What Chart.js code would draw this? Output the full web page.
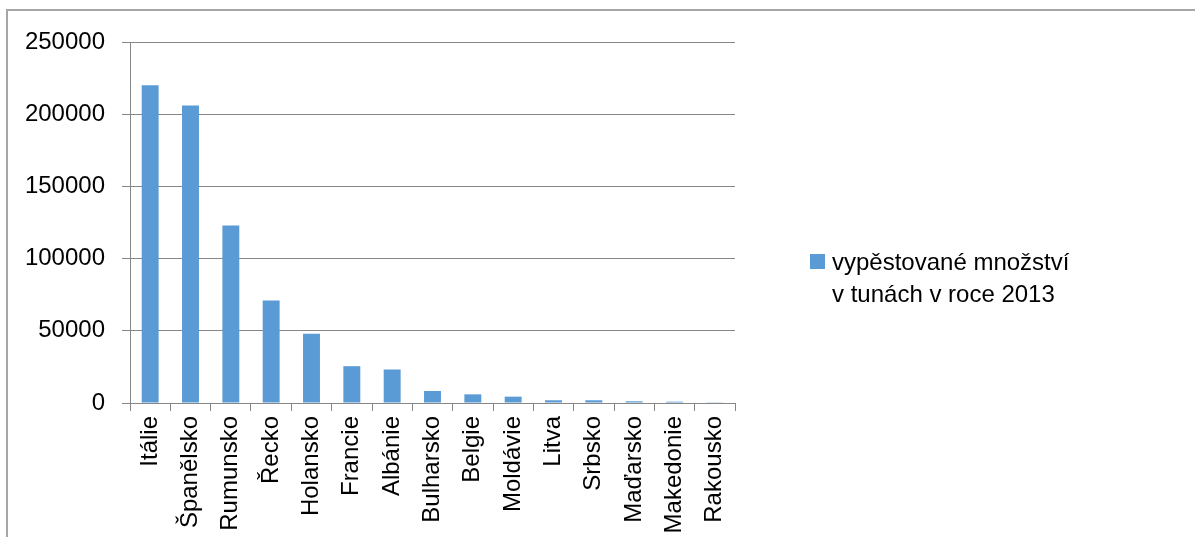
<!DOCTYPE html>
<html lang="cs">
<head>
<meta charset="utf-8">
<title>Vypěstované množství</title>
<script src="https://cdn.jsdelivr.net/npm/chart.js@4.4.1/dist/chart.umd.min.js"></script>
<style>
    html, body { margin: 0; padding: 0; background: #fff; }
    #wrap { position: relative; width: 1195px; height: 537px; overflow: hidden; }
    #frame {
        position: absolute; left: 6px; top: 9px; right: -10px; bottom: -10px;
        border-top: 2px solid #a6a6a6; border-left: 2px solid #a6a6a6;
        pointer-events: none;
    }
    canvas { position: absolute; left: 0; top: 0; }
</style>
</head>
<body>
<div id="wrap">
    <canvas id="chart" width="1195" height="537"></canvas>
    <div id="frame"></div>
</div>
<script>
// Countries and harvested tonnes (2013)
const countries = ['Itálie', 'Španělsko', 'Rumunsko', 'Řecko', 'Holansko', 'Francie', 'Albánie',
    'Bulharsko', 'Belgie', 'Moldávie', 'Litva', 'Srbsko', 'Maďarsko', 'Makedonie', 'Rakousko'];
const tonnes = [220000, 206000, 123000, 71000, 48000, 25500, 23200, 8300, 6000, 4400, 1900, 1900, 1200, 900, 500];
const legendLines = ['vypěstované množství', 'v tunách v roce 2013'];
const yTicks = [0, 50000, 100000, 150000, 200000, 250000];

const barColor = '#5B9BD5';
const gridColor = '#878787';

Chart.defaults.font.family = "'Liberation Sans', Arial, sans-serif";
Chart.defaults.font.size = 24;
Chart.defaults.color = '#000';

// Two-line legend drawn on the right side of the canvas
const sideLegend = {
    id: 'sideLegend',
    afterDraw(chart) {
        const ctx = chart.ctx;
        const ds = chart.data.datasets[0];
        ctx.save();
        ctx.fillStyle = ds.backgroundColor;
        ctx.fillRect(810, 254, 15, 15);
        ctx.fillStyle = '#000';
        ctx.font = "24px 'Liberation Sans', Arial, sans-serif";
        ctx.textBaseline = 'alphabetic';
        legendLines.forEach((line, i) => ctx.fillText(line, 832, 270 + i * 32));
        ctx.restore();
    }
};

new Chart(document.getElementById('chart'), {
    type: 'bar',
    data: {
        labels: countries,
        datasets: [{
            label: legendLines.join(' '),
            data: tonnes,
            backgroundColor: barColor,
            borderWidth: 0,
            categoryPercentage: 1,
            barPercentage: 0.42
        }]
    },
    options: {
        responsive: false,
        animation: false,
        layout: { padding: { left: 0, top: 42, right: 460, bottom: 0 } },
        plugins: {
            legend: { display: false },
            tooltip: { enabled: false }
        },
        scales: {
            x: {
                offset: true,
                grid: {
                    display: true,
                    offset: true,
                    drawOnChartArea: false,
                    tickLength: 8,
                    color: gridColor,
                    lineWidth: 1
                },
                border: { display: true, color: gridColor, width: 1 },
                ticks: {
                    autoSkip: false,
                    minRotation: 90,
                    maxRotation: 90,
                    padding: 5
                },
                afterFit(scale) { scale.height = 134; }
            },
            y: {
                min: 0,
                max: 250000,
                afterBuildTicks(scale) { scale.ticks = yTicks.map(v => ({ value: v })); },
                grid: {
                    color: gridColor,
                    lineWidth: 1,
                    tickLength: 8
                },
                border: { display: true, color: gridColor, width: 1 },
                ticks: {
                    padding: 17,
                    callback: (value) => String(value)
                },
                afterFit(scale) { scale.width = 130; }
            }
        }
    },
    plugins: [sideLegend]
});
</script>
</body>
</html>
